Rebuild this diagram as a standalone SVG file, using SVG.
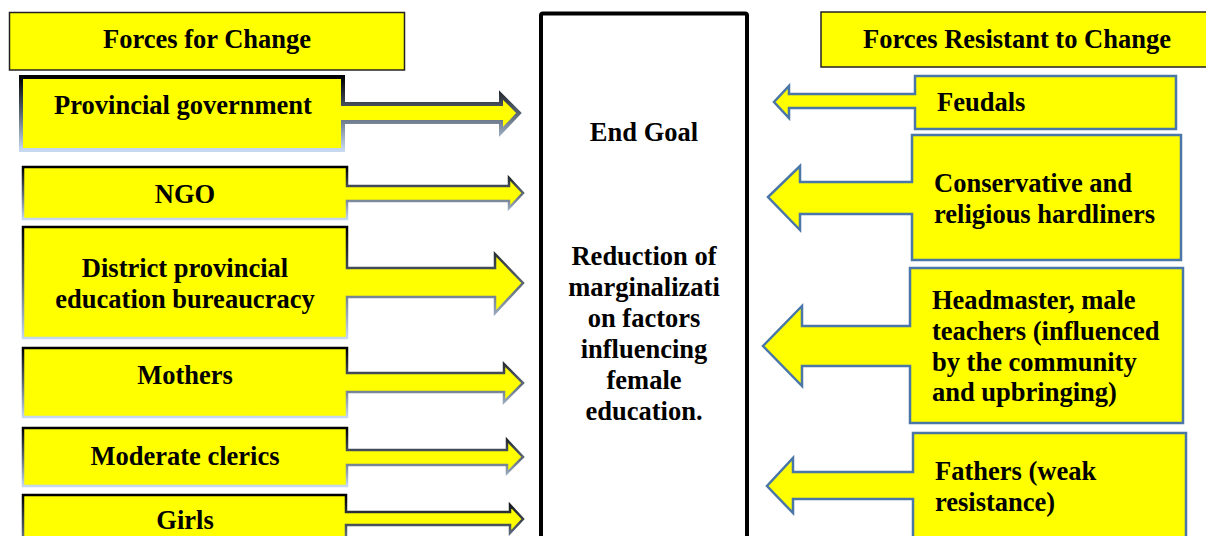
<svg xmlns="http://www.w3.org/2000/svg" width="1206" height="536" viewBox="0 0 1206 536">
<defs>
<linearGradient id="gL" x1="0" y1="0" x2="0" y2="1">
<stop offset="0" stop-color="#000000"/>
<stop offset="0.5" stop-color="#5a6675"/>
<stop offset="1" stop-color="#c6d9f1"/>
</linearGradient>
</defs>
<style>
text{font-family:"Liberation Serif","Times New Roman",serif;font-weight:bold;font-size:26.5px;fill:#000}
.c{text-anchor:middle}
.hdr{fill:#ffff00;stroke:#222;stroke-width:1.5}
.lf{fill:#ffff00;stroke:url(#gL);stroke-width:2.5;stroke-linejoin:miter}
.rt{fill:#ffff00;stroke:#4a76a8;stroke-width:2.5;stroke-linejoin:miter}
.goal{fill:#fff;stroke:#000;stroke-width:4}
</style>
<rect width="1206" height="536" fill="#fff"/>

<g id="header-left">
<rect class="hdr" x="9.5" y="12.5" width="395" height="57.5"/>
<text class="c" x="207" y="48">Forces for Change</text>
</g>
<g id="header-right">
<rect class="hdr" x="821" y="12" width="395" height="55"/>
<text x="863" y="48">Forces Resistant to Change</text>
</g>

<g id="end-goal">
<rect class="goal" x="541" y="13.5" width="206" height="540" rx="2"/>
<text class="c" x="644" y="141">End Goal</text>
<text class="c" x="644" y="265">Reduction of</text>
<text class="c" x="644" y="296">marginalizati</text>
<text class="c" x="644" y="327">on factors</text>
<text class="c" x="644" y="358">influencing</text>
<text class="c" x="644" y="389">female</text>
<text class="c" x="644" y="420">education.</text>
</g>

<g id="connectors"></g>

<g id="provincial-government">
<path class="lf" style="stroke-width:4" d="M21,77 H343 V104 H501 V95 L519,113 L501,132 V122 H343 V150 H21 Z"/>
<text class="c" x="183" y="114">Provincial government</text>
</g>
<g id="ngo">
<path class="lf" d="M23,167 H347 V186 H509 V178 L523,193 L509,208 V201 H347 V219 H23 Z"/>
<text class="c" x="185" y="203">NGO</text>
</g>
<g id="district">
<path class="lf" d="M23,227 H347 V268 H495 V254 L523,283 L495,313 V297 H347 V338 H23 Z"/>
<text class="c" x="185" y="277">District provincial</text>
<text class="c" x="185" y="308">education bureaucracy</text>
</g>
<g id="mothers">
<path class="lf" d="M23,348 H347 V373 H504 V364 L523,383 L504,402 V392 H347 V417 H23 Z"/>
<text class="c" x="185" y="384">Mothers</text>
</g>
<g id="moderate-clerics">
<path class="lf" d="M23,428 H347 V450 H507 V440 L523,457 L507,473 V465 H347 V486 H23 Z"/>
<text class="c" x="185" y="465">Moderate clerics</text>
</g>
<g id="girls">
<path class="lf" d="M23,495 H346 V512 H510 V505 L523,519 L510,533 V525 H346 V570 H23 Z"/>
<text class="c" x="185" y="529">Girls</text>
</g>

<g id="feudals">
<path class="rt" d="M1176,76 V129 H915 V108 H789 V118 L774,102 L789,86 V94 H915 V76 Z"/>
<text x="937" y="111">Feudals</text>
</g>
<g id="conservative">
<path class="rt" d="M1181,135 V260 H912 V214 H800 V230 L768,197 L800,166 V182 H912 V135 Z"/>
<text x="934" y="192">Conservative and</text>
<text x="934" y="223">religious hardliners</text>
</g>
<g id="headmaster">
<path class="rt" d="M1183,268 V423 H910 V366 H802 V386 L763,346 L802,306 V326 H910 V268 Z"/>
<text x="932" y="309">Headmaster, male</text>
<text x="932" y="340">teachers (influenced</text>
<text x="932" y="371">by the community</text>
<text x="932" y="401">and upbringing)</text>
</g>
<g id="fathers">
<path class="rt" d="M1186,433 V570 H913 V499 H793 V513 L767,486 L793,458 V472 H913 V433 Z"/>
<text x="935" y="480">Fathers (weak</text>
<text x="935" y="511">resistance)</text>
</g>
</svg>
